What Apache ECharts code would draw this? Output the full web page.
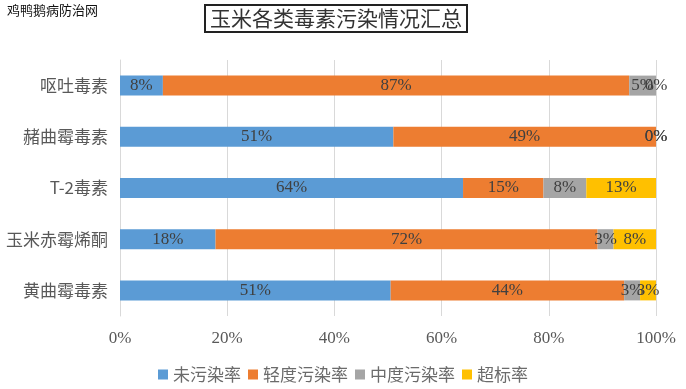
<!DOCTYPE html>
<html><head><meta charset="utf-8">
<script src="https://cdn.jsdelivr.net/npm/echarts@6/dist/echarts.min.js"></script>
<style>html,body{margin:0;padding:0;background:#fff}#c{width:686px;height:389px}</style>
</head><body><div id="c"></div>
<script>
var categories = ['呕吐毒素', '赭曲霉毒素', 'T-2毒素', '玉米赤霉烯酮', '黄曲霉毒素'];
var seriesNames = ['未污染率', '轻度污染率', '中度污染率', '超标率'];
var uncontaminated = [8, 51, 64, 18, 51];
var light = [87, 49, 15, 72, 44];
var moderate = [5, 0, 8, 3, 3];
var exceed = [0, 0, 13, 8, 3];
var xTicks = ['0%', '20%', '40%', '60%', '80%', '100%'];

var colors = ['#5B9BD5', '#ED7D31', '#A5A5A5', '#FFC000'];
var raw = [uncontaminated, light, moderate, exceed];
var totals = categories.map(function (_, i) {
  return raw.reduce(function (s, arr) { return s + arr[i]; }, 0);
});
var serifFont = '"Liberation Serif", "Noto Sans CJK SC", serif';

var series = raw.map(function (arr, k) {
  return {
    name: seriesNames[k],
    type: 'bar',
    stack: 'total',
    barWidth: 20,
    itemStyle: { color: colors[k] },
    label: {
      show: true,
      position: 'inside',
      color: '#404040',
      fontFamily: serifFont,
      fontSize: 17,
      formatter: function (p) { return arr[p.dataIndex] + '%'; }
    },
    data: arr.map(function (v, i) { return v / totals[i] * 100; })
  };
});

var chart = echarts.init(document.getElementById('c'));
chart.setOption({
  animation: false,
  title: {
    text: '玉米各类毒素污染情况汇总',
    left: 205, top: 5,
    padding: [3, 5, 3, 5],
    borderColor: '#222', borderWidth: 2,
    textStyle: { fontFamily: '"Noto Sans CJK SC"', fontSize: 21, fontWeight: 'normal', color: '#333' }
  },
  graphic: [{
    type: 'text', left: 7, top: 4,
    style: { text: '鸡鸭鹅病防治网', fontSize: 13, fontFamily: '"Noto Sans CJK SC"', fill: '#111' }
  }],
  legend: {
    bottom: 1, left: 'center',
    itemWidth: 10, itemHeight: 10, itemGap: 7,
    icon: 'rect',
    textStyle: { color: '#6b6b6b', fontSize: 17, fontFamily: '"Noto Sans CJK SC"' },
    data: seriesNames
  },
  grid: { left: 120, right: 30, top: 60, height: 256, containLabel: false },
  xAxis: {
    type: 'value', min: 0, max: 100, interval: 20,
    axisLine: { show: false }, axisTick: { show: false },
    splitLine: { show: true, lineStyle: { color: '#D9D9D9', width: 1 } },
    axisLabel: {
      margin: 14, color: '#595959', fontSize: 17, fontFamily: serifFont,
      formatter: function (v) { return xTicks[Math.round(v / 20)]; }
    }
  },
  yAxis: {
    type: 'category', data: categories, inverse: true,
    axisLine: { show: true, lineStyle: { color: '#D9D9D9' } },
    axisTick: { show: false },
    axisLabel: { margin: 12, color: '#595959', fontSize: 17, fontFamily: '"Noto Sans CJK SC"' }
  },
  series: series
});
</script></body></html>
